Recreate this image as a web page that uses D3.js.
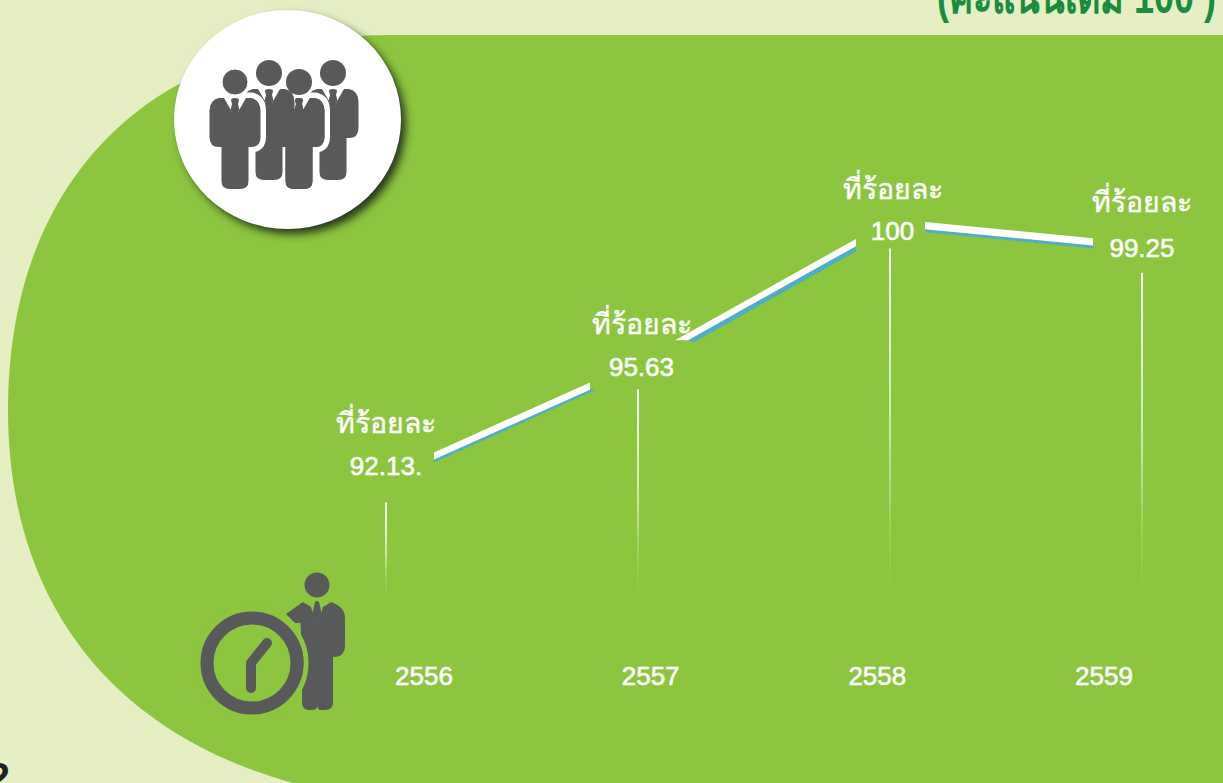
<!DOCTYPE html>
<html>
<head>
<meta charset="utf-8">
<script src="https://cdn.jsdelivr.net/npm/d3@7"></script>
<style>
  html, body { margin: 0; padding: 0; background: #e6efc3; overflow: hidden; }
  svg { display: block; }
  text { font-family: "Liberation Sans", Arial, sans-serif; }
</style>
</head>
<body>
<svg id="chart" width="1223" height="783"></svg>
<script>
const years = ["2556", "2557", "2558", "2559"];
const values = [92.13, 95.63, 100, 99.25];
const valueLabels = ["92.13.", "95.63", "100", "99.25"];
const percentWord = "ที่ร้อยละ";
const unitNote = "(คะแนนเต็ม 100 )";

const svg = d3.select("#chart");
const icon = "#58595b";
const green = "#8cc63f";
const thaiFont = '"Noto Sans", "DejaVu Sans", "Liberation Sans", sans-serif';

// scales
const x = d3.scalePoint().domain(years).range([386, 1142]);
const y = d3.scaleLinear().domain([92.13, 100]).range([477.5, 223.5]);
const xTick = d3.scalePoint().domain(years).range([423.5, 1103.5]);

// gradient and shadow
const defs = svg.append("defs");
const fade = defs.append("linearGradient").attr("id", "fade").attr("x1", 0).attr("x2", 0).attr("y1", 0).attr("y2", 1);
fade.append("stop").attr("offset", "0%").attr("stop-color", "#fff");
fade.append("stop").attr("offset", "55%").attr("stop-color", "#fff").attr("stop-opacity", 0.85);
fade.append("stop").attr("offset", "100%").attr("stop-color", "#fff").attr("stop-opacity", 0);

const shadow = defs.append("filter").attr("id", "shadow")
  .attr("x", "-20%").attr("y", "-20%").attr("width", "140%").attr("height", "140%");
shadow.append("feGaussianBlur").attr("stdDeviation", 4);

// background shape
svg.append("path")
  .attr("fill", green)
  .attr("d", "M1223,35 H390 C150,35 8,180 8,410 C8,600 110,735 300,785 H1223 Z");

// heading, only its lower part is on the page
svg.append("text")
  .attr("transform", "translate(1216,13) scale(1,1.4)")
  .attr("text-anchor", "end")
  .attr("fill", "#1a8c3e")
  .attr("font-family", thaiFont)
  .attr("font-size", 36).attr("font-weight", 700)
  .text(unitNote);

// page number cut by the edge
svg.append("text")
  .attr("x", 10).attr("y", 791)
  .attr("text-anchor", "end")
  .attr("fill", "#231f20")
  .attr("font-size", 40).attr("font-weight", 700)
  .text("2");

// centre of the band between two points
function centre(i, px) {
  const x0 = x(years[i]), x1 = x(years[i + 1]);
  const t = (px - x0) / (x1 - x0);
  return y(values[i]) + t * (y(values[i + 1]) - y(values[i])) + bandShift[i];
}

// corners of each band piece: top left, top right, bottom right, bottom left
const whiteCuts = [[434, 590, 590, 434], [675, 856, 856, 688], [925, 1093, 1093, 925]];
const blueCuts = [[434, 590, 596, 434], [688, 856, 856, 693], [925, 1093, 1093, 925]];
const blueDepth = [6.5, 9, 6.5];
const bandShift = [0, 0, -1.2];

const polygon = d3.line();

d3.range(3).forEach(i => {
  const b = blueCuts[i], w = whiteCuts[i];
  svg.append("path")
    .attr("fill", "#4fadc4")
    .attr("d", polygon([
      [b[0], centre(i, b[0]) + 3], [b[1], centre(i, b[1]) + 3],
      [b[2], centre(i, b[2]) + blueDepth[i]], [b[3], centre(i, b[3]) + blueDepth[i]]
    ]) + "Z");
  svg.append("path")
    .attr("fill", "#fff")
    .attr("d", polygon([
      [w[0], centre(i, w[0]) - 3.6], [w[1], centre(i, w[1]) - 3.6],
      [w[2], centre(i, w[2]) + 3.6], [w[3], centre(i, w[3]) + 3.6]
    ]) + "Z");
});

// drop lines
svg.append("g").selectAll("path")
  .data(years)
  .join("path")
  .attr("fill", "url(#fade)")
  .attr("d", (d, i) => {
    const px = x(d), top = y(values[i]) + 25;
    return polygon([[px - 1, top], [px + 1, top], [px + 0.3, 598], [px - 0.3, 598]]) + "Z";
  });

// value labels
const labelDx = [0, 3.5, 2.5, 0];
const wordY = [433, 334, 199, 212];
const numberY = [475, 376, 240, 257];

const labels = svg.append("g").attr("fill", "#fff").attr("text-anchor", "middle");
labels.selectAll("text.word")
  .data(years)
  .join("text")
  .attr("class", "word")
  .attr("x", (d, i) => x(d) + labelDx[i])
  .attr("y", (d, i) => wordY[i])
  .attr("font-family", thaiFont)
  .attr("font-size", 28.5)
  .attr("stroke", "#fff").attr("stroke-width", 0.4)
  .text(percentWord);
labels.selectAll("text.number")
  .data(years)
  .join("text")
  .attr("class", "number")
  .attr("x", (d, i) => x(d) + labelDx[i])
  .attr("y", (d, i) => numberY[i])
  .attr("font-size", 26)
  .attr("stroke", "#fff").attr("stroke-width", 0.6)
  .text((d, i) => valueLabels[i]);

// year axis
const axis = svg.append("g")
  .attr("transform", "translate(0,684.5)")
  .call(d3.axisBottom(xTick).tickSize(0).tickPadding(0));
axis.select(".domain").remove();
axis.selectAll("text")
  .attr("dy", 0)
  .attr("fill", "#fff")
  .attr("font-size", 26)
  .attr("font-family", '"Liberation Sans", Arial, sans-serif')
  .attr("stroke", "#fff").attr("stroke-width", 0.6);

// round badge
svg.append("ellipse")
  .attr("cx", 292.5).attr("cy", 125).attr("rx", 113).attr("ry", 109)
  .attr("fill", "#26361a").attr("filter", "url(#shadow)");
svg.append("ellipse")
  .attr("cx", 287.5).attr("cy", 119.5).attr("rx", 113.5).attr("ry", 109.5)
  .attr("fill", "#fff");

// person icon, head centre at cx,cy
const bodyPath = "M-11,16 L-3,30 L3,30 L11,16 L16,16 Q25.5,18 25.5,29 V55 Q25.5,65 16,65 H13.5 V99 Q13.5,107 5,107 H-5 Q-13.5,107 -13.5,99 V65 H-16 Q-25.5,65 -25.5,55 V29 Q-25.5,18 -16,16 Z";
const tiePath = "M-4,18 Q-4,16 0,16 Q4,16 4,18 L3,22 L4.5,28 L0,33 L-4.5,28 L-3,22 Z";

function person(cx, cy, halo) {
  const g = svg.append("g").attr("transform", `translate(${cx},${cy})`);
  if (halo) {
    g.append("path").attr("d", bodyPath).attr("fill", "#fff").attr("stroke", "#fff").attr("stroke-width", 11);
  }
  g.append("circle").attr("r", 13).attr("fill", icon).attr("stroke", halo ? "#fff" : "none").attr("stroke-width", 1);
  g.append("path").attr("d", bodyPath).attr("fill", icon);
  g.append("path").attr("d", tiePath).attr("fill", icon);
}

person(333, 73, false);
person(299, 82, true);
person(269, 73, false);
person(299, 82, false);
person(235, 82, true);

// man, then clock in front with a green gap round it
const clock = svg.append("g");
clock.append("circle").attr("cx", 317).attr("cy", 585).attr("r", 12.5).attr("fill", icon);
clock.append("path")
  .attr("fill", icon)
  .attr("d", "M303,602 L311,607 L315,620 L319,620 L323,607 L331,602 Q345,607 345,618 V645 Q345,657 334,657 H333 V702 Q333,710 325,710 H320 Q318,710 317.5,706 Q317,710 312,710 H309 Q302,710 302,702 V660 L300.5,623 L295,623 L286,614 Z");
clock.append("path")
  .attr("fill", icon)
  .attr("d", "M315,602 Q317,600 319,602 L320,606 L322,616 L317,623 L312,616 L314,606 Z");
clock.append("circle")
  .attr("cx", 252).attr("cy", 663).attr("r", 54)
  .attr("fill", "none").attr("stroke", green).attr("stroke-width", 5);
clock.append("circle")
  .attr("cx", 252).attr("cy", 663).attr("r", 45)
  .attr("fill", "none").attr("stroke", icon).attr("stroke-width", 13);
clock.append("path")
  .attr("d", "M267,643 L251,663 V688")
  .attr("fill", "none").attr("stroke", icon).attr("stroke-width", 10)
  .attr("stroke-linecap", "round").attr("stroke-linejoin", "round");
</script>
</body>
</html>
